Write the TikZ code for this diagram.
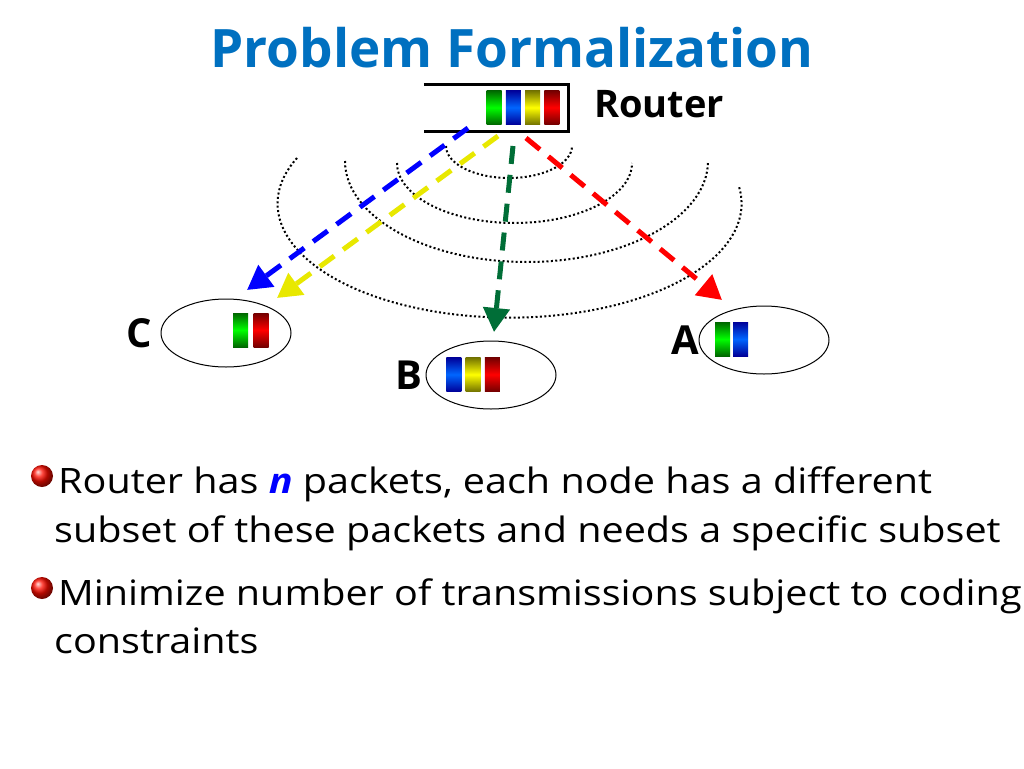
\documentclass[tikz,border=0pt]{standalone}
\usepackage{fontspec}
\setmainfont{Open Sans}
\newfontfamily\bodyfont[FakeStretch=1.13]{Open Sans}
\usepackage{tikz}
\usetikzlibrary{arrows.meta,shapes.geometric,positioning}

\definecolor{ttlblue}{RGB}{0,112,192}
\definecolor{pkyellow}{RGB}{232,232,0}
\definecolor{pkgreen}{RGB}{0,110,55}

\begin{document}
\begin{tikzpicture}[x=1pt,y=-1pt,
    pk/.style={minimum width=15pt,minimum height=34pt,inner sep=0pt},
    pkg/.style={pk,top color=green!40!black,bottom color=green!40!black,middle color=green},
    pkb/.style={pk,top color=blue!60!black,bottom color=blue!60!black,middle color=blue!60!cyan},
    pky/.style={pk,top color=yellow!45!black,bottom color=yellow!45!black,middle color=yellow},
    pkr/.style={pk,top color=red!45!black,bottom color=red!45!black,middle color=red},
    rx/.style={draw,ellipse,line width=1pt,minimum width=130pt,minimum height=68pt,inner sep=0pt},
    lbl/.style={inner sep=0pt,font=\fontsize{40}{40}\selectfont\bfseries},
    txt/.style={inner sep=0pt,anchor=base west,font=\bodyfont\fontsize{35}{49}\selectfont},
    wave/.style={line width=2pt,dash pattern=on 2pt off 2.4pt},
    tx/.style={line width=5pt,dash pattern=on 18pt off 11pt,-{Triangle[length=24pt,width=26pt]}},
    bul/.style={circle,inner sep=0pt,minimum size=22pt,shade,ball color=red!90!orange}]
  \fill[white] (0,0) rectangle (1024,768);
  \useasboundingbox (0,0) rectangle (1024,768);

  \node[anchor=base,inner sep=0pt,text=ttlblue,font=\fontsize{53}{53}\selectfont\bfseries]
    (title) at (512,67) {Problem Formalization};

  % router queue
  \node[minimum width=144pt,minimum height=46pt,inner sep=0pt] (router) at (496,108) {};
  \draw[line width=3pt] (router.north west) -- (router.north east)
    -- (router.south east) -- (router.south west);
  \foreach \c [count=\i] in {g,b,y,r}
    \node[pk\c] (rp\i) at (475+19.2*\i,107.5) {};
  \node[lbl,anchor=base west,font=\fontsize{38}{38}\selectfont\bfseries] (rlab) at (594,117) {Router};

  % transmission range
  \draw[wave] (446,146) arc[start angle=180,end angle=360,x radius=63pt,y radius=32pt];
  \draw[wave] (397,163) arc[start angle=180,end angle=360,x radius=117.5pt,y radius=60pt];
  \draw[wave] (345,161) arc[start angle=180,end angle=360,x radius=181.5pt,y radius=101pt];
  \draw[wave] (297,158) arc[start angle=156.4,end angle=368.6,x radius=232pt,y radius=114pt];

  % receivers
  \node[rx] (C) at (226,333) {};
  \node[rx] (B) at (491,375) {};
  \node[rx] (A) at (764,340) {};
  \node[lbl,left=8pt of C] (labC) {C};
  \node[lbl,left=3pt of B] (labB) {B};
  \node[lbl,left=-1pt of A] (labA) {A};
  \foreach \c [count=\i] in {g,r}
    \node[pk\c] (cp\i) at (220+20.5*\i,330) {};
  \foreach \c [count=\i] in {b,y,r}
    \node[pk\c] (bp\i) at (434.5+19.3*\i,374.5) {};
  \foreach \c [count=\i] in {g,b}
    \node[pk\c] (ap\i) at (704.5+18*\i,339) {};

  % packets sent
  \coordinate (sb) at (468,128); \coordinate (tb) at (247,290);
  \coordinate (sy) at (498,136); \coordinate (ty) at (277,298);
  \coordinate (sg) at (513,146); \coordinate (tg) at (494,332);
  \coordinate (sr) at (526,138); \coordinate (tr) at (722,300);
  \draw[tx,blue] (sb) -- (tb);
  \draw[tx,pkyellow] (sy) -- (ty);
  \draw[tx,pkgreen] (sg) -- (tg);
  \draw[tx,red] (sr) -- (tr);

  % bullets
  \node[bul] (bul1) at (42,476) {};
  \node[bul] (bul2) at (42,588) {};
  \node[txt] (l1) at (58,493) {Router has \textcolor{blue}{\textbf{\textit{n}}} packets, each node has a different};
  \node[txt] (l2) at (54,542) {subset of these packets and needs a specific subset};
  \node[txt] (l3) at (58,605) {Minimize number of transmissions subject to coding};
  \node[txt] (l4) at (54,653) {constraints};
\end{tikzpicture}
\end{document}
